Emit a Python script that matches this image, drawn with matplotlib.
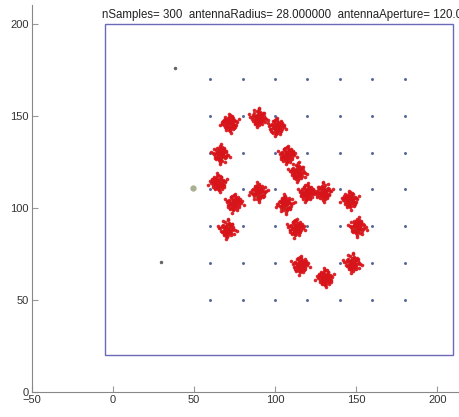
import numpy as np
import matplotlib
matplotlib.use('Agg')
import matplotlib.pyplot as plt
from matplotlib.patches import Rectangle

plt.rcParams['font.family'] = ['Liberation Sans', 'DejaVu Sans']

# grade de antenas (pontos azuis)
grid_x = [60, 80, 100, 120, 140, 160, 180]
grid_y = [50, 70, 90, 110, 130, 150, 170]

# centros dos agrupamentos
cx = [72, 89.5, 101, 66.7, 107.4, 113.6, 64.9, 89.5, 119.7, 130.2,
      74.7, 106, 146.1, 70.3, 112.8, 151.2, 115.6, 147.4, 130.8]
cy = [146, 149, 144, 129.3, 128.8, 119.6, 113.6, 108.7, 108.2, 108.7,
      102.7, 102.2, 104.3, 88.6, 89.1, 89.7, 69, 70.1, 62]

# forma aproximada de um agrupamento (deslocamentos em unidades)
off_ax = [-4.5, -3.8, -3.0, -2.6, -2.0, -1.5, -1.0, -0.5, 0.0, 0.4, 0.9, 1.5, 2.0,
          2.6, 3.2, 3.9, 4.4, -3.5, -2.2, -1.2, 0.2, 1.1, 2.3, 3.4, -2.8, -1.6,
          -0.3, 0.8, 1.8, 2.9, -1.9, -0.7, 0.6, 1.6, -4.0, 4.8, -0.2, 0.3, -1.1, 1.3,
          -5.6, 5.9, -0.9, 0.5, 2.7, -2.4, 1.9, -1.3, 3.6, -3.3, 0.1, -0.6, 1.2, 2.2]
off_ay = [0.5, -1.2, 1.8, -2.5, 3.0, -0.4, 2.2, -3.2, 0.8, 3.6, -1.8, 1.0, -2.8,
          2.4, -0.9, 1.3, -0.2, -2.0, 0.1, -1.5, -2.1, 2.9, 1.5, 0.3, 1.0, 3.4,
          -4.0, -0.6, -1.3, -2.2, -0.8, 1.4, 1.9, 0.4, 1.2, 0.9, 4.3, -3.5, 0.2, -0.3,
          2.1, -1.0, -5.2, 5.1, 3.3, -3.1, -3.6, 4.0, 2.0, -0.9, 1.0, -1.9, -0.1, 0.6]
off_bx = [-3.9, -3.1, -2.4, -1.8, -1.1, -0.6, 0.1, 0.7, 1.2, 1.9, 2.5, 3.3, 4.1,
          -2.9, -2.0, -0.9, 0.4, 1.4, 2.8, 3.7, -3.4, -1.4, -0.2, 1.0, 2.2, -2.5,
          -0.5, 0.9, 1.7, -1.6, 0.0, 2.0, -0.8, 0.5, 5.2, -4.6, 3.0, -1.2, 1.5, 0.2,
          6.1, 4.6, -2.2, 0.9, -0.3, 2.6, -1.9, 3.5, -0.7, 1.1, -5.3, 0.3, -1.0, 1.8]
off_by = [-0.6, 1.6, -2.3, 2.8, -1.0, 3.9, -2.9, 2.1, -0.2, 1.2, -1.7, 0.7, -0.1,
          -1.4, 1.1, -3.6, 4.2, -2.6, 2.0, -1.1, 0.9, 0.3, -1.3, 3.1, 0.4, -0.9,
          2.6, -0.7, 1.8, 1.7, 0.0, -2.1, -0.1, -4.6, 0.6, -0.3, -2.7, 2.4, 0.8, 1.5,
          1.1, 2.6, -4.1, -5.4, 5.3, 3.4, 3.2, -2.4, 2.9, -3.3, -1.8, 0.7, -0.4, 0.2]
off_gx = [-1.2, 0.3, 1.0, -0.4, 0.8, -1.6, 1.5, 0.0, -0.8, 2.0]
off_gy = [0.4, -0.8, 0.9, 1.5, -1.6, -0.5, 0.1, 0.2, -2.0, 1.8]

# pontos soltos
sx = [38.2, 49.4, 29.7]
sy = [176, 110.9, 70.7]

fig = plt.figure(figsize=(4.59, 4.17), dpi=100)
ax = fig.add_axes([0.069, 0.06, 0.933, 0.927])

gx, gy = np.meshgrid(grid_x, grid_y)
ax.plot(gx.ravel(), gy.ravel(), '.', color='#56689a', markersize=2.3)

ax.add_patch(Rectangle((-5, 20), 215, 180, fill=False, edgecolor='#6a6ab8', linewidth=1))

for i in range(len(cx)):
    if i % 2 == 0:
        ox, oy = np.array(off_ax), np.array(off_ay)
    else:
        ox, oy = np.array(off_bx), np.array(off_by)
    if i % 3 == 0:
        ox = -ox
    if i % 4 == 1:
        oy = -oy
    ax.plot(cx[i] + np.array(off_gx), cy[i] + np.array(off_gy), '.', color='#7d7a2a',
            markersize=3)
    ax.plot(cx[i] + ox, cy[i] + oy, '.', color='#d8141a', markersize=3.2, alpha=0.85)

ax.plot(sx, sy, '.', color='#666666', markersize=3)
ax.plot(sx[1], sy[1], 'o', color='#a8b090', markersize=3.5)

ax.text(-6.5, 201.5, 'nSamples= 300  antennaRadius= 28.000000  antennaAperture= 120.000000',
        fontsize=8.3, color='#222222', va='bottom', ha='left', clip_on=False)

ax.set_xlim(-50, 214)
ax.set_ylim(0, 210)
ax.set_xticks([-50, 0, 50, 100, 150, 200])
ax.set_yticks([0, 50, 100, 150, 200])
for s in ['top', 'right']:
    ax.spines[s].set_visible(False)
for s in ['left', 'bottom']:
    ax.spines[s].set_color('#888888')
ax.tick_params(direction='in', length=4, color='#999999', labelsize=8, labelcolor='#333333', pad=2)

fig.savefig('out.png', dpi=100)
